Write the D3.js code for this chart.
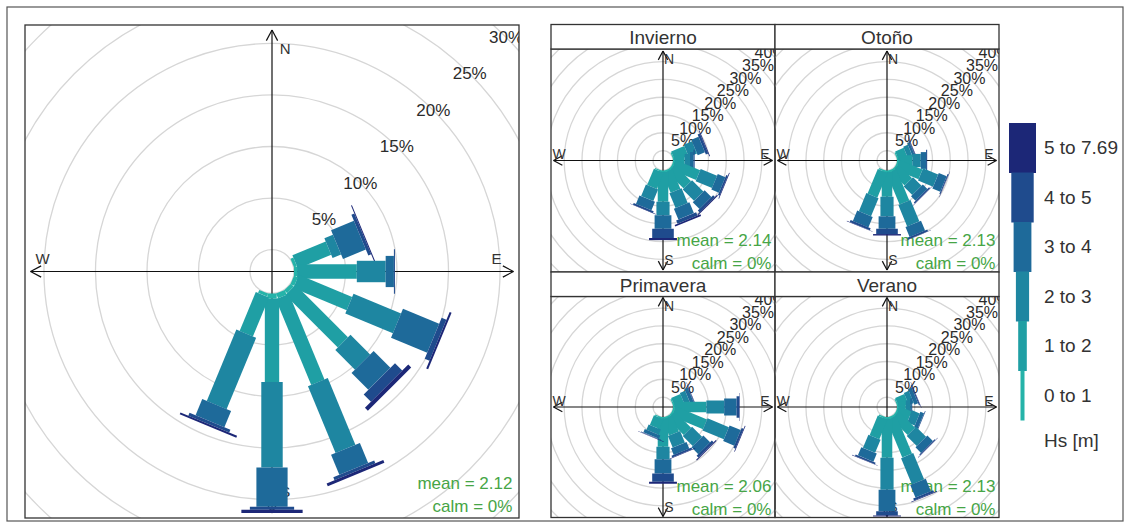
<!DOCTYPE html>
<html>
<head>
<meta charset="utf-8">
<script src="https://cdn.jsdelivr.net/npm/d3@7"></script>
<style>
  body { margin: 0; background: #fff; }
  svg text { font-family: "Liberation Sans", Arial, sans-serif; }
</style>
</head>
<body>
<svg id="chart" width="1130" height="528"></svg>
<script>
// paddle directions, degrees clockwise from north
var directions = [67.5, 90, 112.5, 135, 157.5, 180, 202.5];

// Hs classes (m) and their colours
var bins = ['0 to 1', '1 to 2', '2 to 3', '3 to 4', '4 to 5', '5 to 7.69'];
var binColors = ['#25b3a9', '#1f9fa4', '#1e86a1', '#1e6a9a', '#1f4b8d', '#1c2777'];
var legendTitle = 'Hs [m]';

// frequency (%) per direction (rows) and Hs class (columns)
var allData = [
  [0.3, 3.5, 0.9, 2.4, 0.3, 0.1],
  [0.3, 5.8, 2.8, 0.8, 0.1, 0.0],
  [0.4, 5.6, 5.0, 3.8, 0.5, 0.2],
  [0.4, 7.2, 2.7, 2.3, 1.0, 0.4],
  [0.5, 9.0, 7.0, 2.1, 0.3, 0.3],
  [0.5, 8.1, 8.3, 3.8, 0.3, 0.3],
  [0.3, 4.1, 7.5, 1.7, 0.3, 0.2]
];
var allMean = 2.12;
var allCalm = 0;

var seasons = ['Invierno', 'Otoño', 'Primavera', 'Verano'];
var inviernoData = [
  [0.3, 4.0, 2.5, 2.2, 0.7, 0.2],
  [0.3, 3.0, 1.5, 1.0, 0.3, 0.0],
  [0.4, 7.5, 5.0, 2.3, 0.5, 0.2],
  [0.4, 6.5, 4.5, 2.7, 0.7, 0.3],
  [0.4, 6.0, 4.5, 3.3, 1.0, 0.5],
  [0.4, 8.4, 3.8, 3.8, 2.6, 0.6],
  [0.3, 5.0, 3.5, 2.6, 0.5, 0.1]
];
var otonoData = [
  [0.3, 2.6, 1.4, 0.7, 0.2, 0.1],
  [0.3, 4.0, 2.4, 1.5, 0.3, 0.0],
  [0.4, 7.0, 4.6, 2.4, 0.3, 0.1],
  [0.3, 5.4, 3.4, 1.8, 0.4, 0.1],
  [0.5, 9.5, 6.5, 3.0, 0.5, 0.1],
  [0.4, 7.0, 5.5, 3.5, 1.5, 0.4],
  [0.4, 7.5, 5.5, 3.2, 0.6, 0.1]
];
var primaveraData = [
  [0.3, 2.8, 1.6, 1.0, 0.2, 0.1],
  [0.4, 9.0, 5.0, 3.5, 0.8, 0.1],
  [0.5, 9.5, 6.5, 3.4, 0.6, 0.2],
  [0.4, 6.5, 4.0, 2.7, 0.7, 0.3],
  [0.3, 5.0, 3.5, 2.0, 0.5, 0.2],
  [0.4, 8.0, 3.5, 4.0, 2.3, 0.6],
  [0.3, 3.0, 1.6, 1.0, 0.2, 0.1]
];
var veranoData = [
  [0.3, 2.8, 1.5, 1.1, 0.3, 0.1],
  [0.3, 2.2, 1.2, 0.5, 0.1, 0.0],
  [0.3, 3.8, 2.3, 1.1, 0.2, 0.0],
  [0.4, 6.5, 4.0, 2.2, 0.3, 0.1],
  [0.5, 11.5, 8.0, 3.8, 0.6, 0.2],
  [0.5, 11.0, 9.0, 6.0, 1.2, 0.3],
  [0.4, 6.0, 4.0, 2.5, 0.5, 0.1]
];
var seasonData = [inviernoData, otonoData, primaveraData, veranoData];
var seasonMeans = [2.14, 2.13, 2.06, 2.13];
var seasonCalms = [0, 0, 0, 0];

var svg = d3.select('#chart');
var defs = svg.append('defs');

// paddle widths grow with the Hs class (openair style)
var boxLo = Math.pow(0.002, 0.25), boxHi = Math.pow(0.016, 0.25);
var boxRatio = d3.range(bins.length).map(function(i) {
  return Math.pow(boxLo + (boxHi - boxLo) * i / (bins.length - 1), 4) / 0.016;
});

function totals(data) {
  return data.map(function(row) { return d3.sum(row); });
}

function drawRose(id, box, half, data, maxFreq, mean, calm, o) {
  var cx = box.x + box.w / 2, cy = box.y + box.h / 2;
  var offSet = maxFreq * 0.1;
  var R = half / 1.023;
  var r = d3.scaleLinear().domain([0, maxFreq + offSet]).range([0, R]);

  defs.append('clipPath').attr('id', id).append('rect')
    .attr('x', box.x).attr('y', box.y).attr('width', box.w).attr('height', box.h);

  var p = svg.append('g').attr('clip-path', 'url(#' + id + ')')
    .append('g').attr('transform', 'translate(' + cx + ',' + cy + ')');

  var myMax = 2 * maxFreq;
  var rings = d3.range(0, myMax - offSet + 1e-6, 5);
  p.selectAll('circle.ring').data(rings).join('circle')
    .attr('class', 'ring')
    .attr('r', function(d) { return r(offSet + d); })
    .attr('fill', 'none').attr('stroke', '#d6d6d6').attr('stroke-width', 1.3);

  // axes with open arrow heads at both ends
  var ext = r(maxFreq + offSet);
  var ends = [[1, 0], [-1, 0], [0, 1], [0, -1]];
  p.append('line').attr('x1', -ext).attr('x2', ext).attr('y1', 0).attr('y2', 0)
    .attr('stroke', '#111').attr('stroke-width', 1.2);
  p.append('line').attr('y1', -ext).attr('y2', ext).attr('x1', 0).attr('x2', 0)
    .attr('stroke', '#111').attr('stroke-width', 1.2);
  var al = o.arrow, aa = 28 * Math.PI / 180;
  ends.forEach(function(e) {
    var tx = e[0] * ext, ty = e[1] * ext;
    [aa, -aa].forEach(function(a) {
      var bx = -e[0], by = -e[1];
      var rx = bx * Math.cos(a) - by * Math.sin(a), ry = bx * Math.sin(a) + by * Math.cos(a);
      p.append('line').attr('x1', tx).attr('y1', ty)
        .attr('x2', tx + rx * al).attr('y2', ty + ry * al)
        .attr('stroke', '#111').attr('stroke-width', 1.2);
    });
  });

  // ring labels along 45 degrees (only those that reach into the panel)
  var labs = d3.range(5, myMax - offSet + 1e-6, 5).filter(function(d) {
    return r(offSet + d) * Math.SQRT1_2 < half;
  });
  p.selectAll('text.rl').data(labs).join('text')
    .attr('class', 'rl')
    .attr('x', function(d) { return r(offSet + d) * Math.SQRT1_2; })
    .attr('y', function(d) { return -r(offSet + d) * Math.SQRT1_2; })
    .attr('text-anchor', 'middle').attr('dominant-baseline', 'central')
    .attr('font-size', o.ringFont).attr('fill', '#2b2b2b')
    .text(function(d) { return d + '%'; });

  // compass letters
  var pp = 0.055 * ext;
  var comp = [['N', pp, -0.925 * ext], ['E', 0.93 * ext, -pp], ['S', pp, 0.91 * ext], ['W', -0.95 * ext, -pp]];
  p.selectAll('text.cmp').data(comp).join('text')
    .attr('class', 'cmp')
    .attr('x', function(d) { return d[1]; }).attr('y', function(d) { return d[2]; })
    .attr('text-anchor', 'middle').attr('dominant-baseline', 'central')
    .attr('font-size', o.compFont).attr('fill', '#333')
    .text(function(d) { return d[0]; });

  // statistics (drawn under the paddles, as in the original)
  var st = p.append('text').attr('text-anchor', 'end')
    .attr('font-size', 17).attr('fill', '#46a546');
  st.append('tspan').attr('x', ext - 1).attr('y', ext - 24).text('mean = ' + mean.toFixed(2));
  st.append('tspan').attr('x', ext - 1).attr('y', ext - 1).text('calm = ' + calm + '%');

  // paddles
  var segs = [];
  directions.forEach(function(dir, i) {
    var cum = 0;
    data[i].forEach(function(v, j) {
      if (v > 0) segs.push({dir: dir, from: cum, to: cum + v, bin: j});
      cum += v;
    });
  });
  p.selectAll('path.pad').data(segs).join('path')
    .attr('class', 'pad')
    .attr('d', function(s) {
      var t = s.dir * Math.PI / 180;
      var ux = Math.sin(t), uy = -Math.cos(t), vx = Math.cos(t), vy = Math.sin(t);
      var r1 = r(offSet + s.from), r2 = r(offSet + s.to);
      var w = r(boxRatio[s.bin] * maxFreq * o.paddle) + o.padBase;
      return 'M' + (r1 * ux - w * vx) + ',' + (r1 * uy - w * vy) +
        'L' + (r1 * ux + w * vx) + ',' + (r1 * uy + w * vy) +
        'L' + (r2 * ux + w * vx) + ',' + (r2 * uy + w * vy) +
        'L' + (r2 * ux - w * vx) + ',' + (r2 * uy - w * vy) + 'Z';
    })
    .attr('fill', function(s) { return binColors[s.bin]; });

  svg.append('rect').attr('x', box.x).attr('y', box.y).attr('width', box.w).attr('height', box.h)
    .attr('fill', 'none').attr('stroke', '#333').attr('stroke-width', 1.3);
}

// outer frame
svg.append('rect').attr('x', 7).attr('y', 7).attr('width', 1116).attr('height', 514)
  .attr('fill', 'none').attr('stroke', '#555').attr('stroke-width', 1.2);

// left: all data
var allMax = d3.max(totals(allData));
drawRose('clipAll', {x: 25, y: 25, w: 494, h: 493}, 247, allData, allMax, allMean, allCalm,
  {arrow: 12, ringFont: 17, compFont: 15, paddle: 0.135, padBase: 1});

// right: one panel per season
var seasonMax = d3.max(seasonData, function(d) { return d3.max(totals(d)); });
var colX = [551, 775], colW = 224;
var rows = [{strip: 24.5, top: 49, bottom: 272}, {strip: 272, top: 296.5, bottom: 517.5}];
seasons.forEach(function(name, i) {
  var c = i % 2, rw = rows[Math.floor(i / 2)];
  var box = {x: colX[c], y: rw.top, w: colW, h: rw.bottom - rw.top};
  drawRose('clipS' + i, box, 112, seasonData[i], seasonMax, seasonMeans[i], seasonCalms[i],
    {arrow: 10, ringFont: 16, compFont: 14, paddle: 0.11, padBase: 3});
  svg.append('rect').attr('x', colX[c]).attr('y', rw.strip).attr('width', colW).attr('height', rw.top - rw.strip)
    .attr('fill', '#fff').attr('stroke', '#333').attr('stroke-width', 1.3);
  svg.append('text').attr('x', colX[c] + colW / 2).attr('y', (rw.strip + rw.top) / 2 + 1)
    .attr('text-anchor', 'middle').attr('dominant-baseline', 'central')
    .attr('font-size', 19).attr('fill', '#333').text(name);
});

// legend: stacked paddles, widest class on top
var legX = 1022.5, legTop = 123, legStep = 49.5;
var legendRows = bins.map(function(b, j) { return {label: b, bin: j}; }).reverse();
var lg = svg.append('g');
lg.selectAll('rect').data(legendRows).join('rect')
  .attr('x', function(d) { return legX - (2 + d.bin * 2.3); })
  .attr('width', function(d) { return 4 + d.bin * 4.6; })
  .attr('y', function(d, i) { return legTop + i * legStep; })
  .attr('height', legStep + 0.5)
  .attr('fill', function(d) { return binColors[d.bin]; });
lg.selectAll('text').data(legendRows).join('text')
  .attr('x', 1044)
  .attr('y', function(d, i) { return legTop + (i + 0.5) * legStep; })
  .attr('dominant-baseline', 'central')
  .attr('font-size', 19).attr('fill', '#333')
  .text(function(d) { return d.label; });
lg.append('text').attr('x', 1044).attr('y', legTop + 6 * legStep + 20)
  .attr('dominant-baseline', 'central').attr('font-size', 19).attr('fill', '#333')
  .text(legendTitle);
</script>
</body>
</html>
